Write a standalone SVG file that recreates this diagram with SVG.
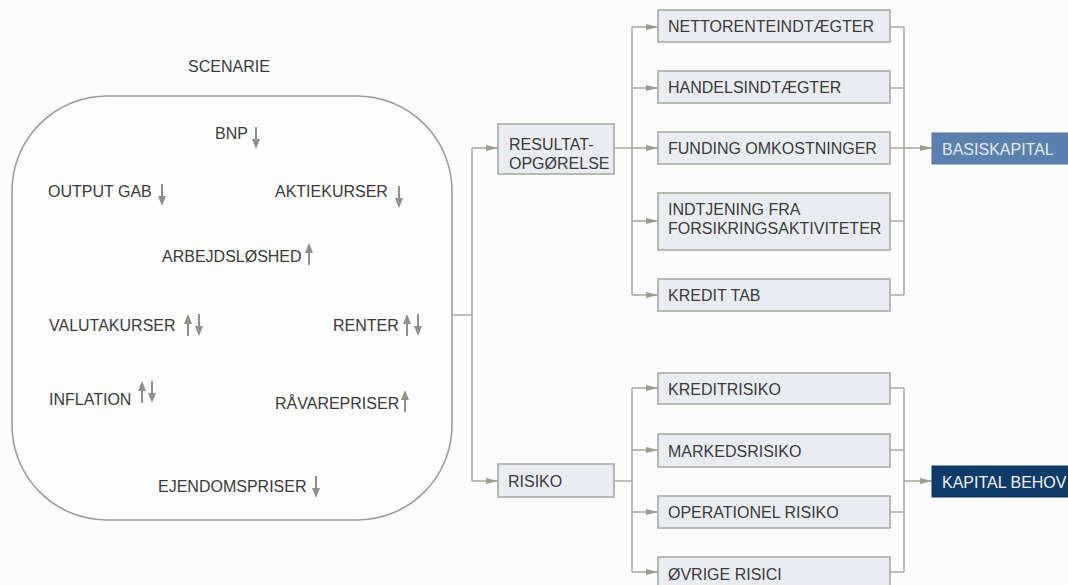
<svg xmlns="http://www.w3.org/2000/svg" width="1068" height="585" viewBox="0 0 1068 585">
<style>
.t{font-family:"Liberation Sans",Arial,sans-serif;font-size:16px;fill:#3a3a3a}
.bx{fill:#e9edf2;stroke:#a7a9a2;stroke-width:1.6}
.c{fill:none;stroke:#a9aba3;stroke-width:1.6}
.ca{fill:none;stroke:#a9aba3;stroke-width:1.6;marker-end:url(#ah)}
.ar{fill:#8e9284}
</style>
<defs>
<marker id="ah" viewBox="0 0 12 6" markerWidth="12" markerHeight="6" refX="12" refY="3" orient="auto" markerUnits="userSpaceOnUse">
<path d="M0,0 L12,3 L0,6 z" fill="#999c90"/>
</marker>
<g id="dn" class="ar"><rect x="-1" y="0" width="2" height="15"/><path d="M-4,12 L4,12 L0,22 z"/></g>
<g id="up" class="ar"><rect x="-1" y="7" width="2" height="15"/><path d="M-4,10 L4,10 L0,0 z"/></g>
</defs>
<rect width="1068" height="585" fill="#fcfcfc"/>

<g id="scenario">
<text class="t" x="229" y="72" text-anchor="middle">SCENARIE</text>
<rect x="12" y="96" width="440" height="424" rx="95" ry="95" fill="#fdfdfd" stroke="#9c9c9a" stroke-width="1.6"/>
<text class="t" x="215" y="139">BNP</text><use href="#dn" x="256" y="127"/>
<text class="t" x="48" y="197">OUTPUT GAB</text><use href="#dn" x="162" y="184"/>
<text class="t" x="275" y="197">AKTIEKURSER</text><use href="#dn" x="399" y="186"/>
<text class="t" x="162" y="262">ARBEJDSLØSHED</text><use href="#up" x="309" y="243"/>
<text class="t" x="49" y="331">VALUTAKURSER</text><use href="#up" x="188" y="314"/><use href="#dn" x="199" y="314"/>
<text class="t" x="333" y="331">RENTER</text><use href="#up" x="407" y="314"/><use href="#dn" x="418" y="314"/>
<text class="t" x="49" y="405">INFLATION</text><use href="#up" x="142" y="381"/><use href="#dn" x="152" y="381"/>
<text class="t" x="275" y="409">RÅVAREPRISER</text><use href="#up" x="405" y="390"/>
<text class="t" x="158" y="492">EJENDOMSPRISER</text><use href="#dn" x="316" y="476"/>
</g>

<g id="connectors">
<path class="c" d="M452,315 H472 M472,148 V481"/>
<path class="ca" d="M472,148 H498"/>
<path class="ca" d="M472,481 H498"/>
<path class="c" d="M614,148 H632 M632,27 V295"/>
<path class="ca" d="M632,27 H658"/>
<path class="ca" d="M632,88 H658"/>
<path class="ca" d="M632,148 H658"/>
<path class="ca" d="M632,221 H658"/>
<path class="ca" d="M632,295 H658"/>
<path class="c" d="M890,27 H904 M890,88 H904 M890,148 H904 M890,221 H904 M890,295 H904 M904,27 V295"/>
<path class="ca" d="M904,148 H932"/>
<path class="c" d="M614,481 H632 M632,388 V572"/>
<path class="ca" d="M632,388 H658"/>
<path class="ca" d="M632,450 H658"/>
<path class="ca" d="M632,512 H658"/>
<path class="ca" d="M632,572 H658"/>
<path class="c" d="M890,388 H904 M890,450 H904 M890,512 H904 M890,572 H904 M904,388 V572"/>
<path class="ca" d="M904,481 H932"/>
</g>

<g id="resultat"><rect class="bx" x="498" y="124" width="116" height="50"/><text class="t" x="509" y="150">RESULTAT-</text><text class="t" x="509" y="169">OPGØRELSE</text></g>
<g id="risiko"><rect class="bx" x="498" y="464" width="116" height="33"/><text class="t" x="508" y="487">RISIKO</text></g>

<g id="nettorente"><rect class="bx" x="658" y="10" width="232" height="32"/><text class="t" x="668" y="32">NETTORENTEINDTÆGTER</text></g>
<g id="handel"><rect class="bx" x="658" y="71" width="232" height="32"/><text class="t" x="668" y="93">HANDELSINDTÆGTER</text></g>
<g id="funding"><rect class="bx" x="658" y="132" width="232" height="32"/><text class="t" x="668" y="154">FUNDING OMKOSTNINGER</text></g>
<g id="indtjening"><rect class="bx" x="658" y="193" width="232" height="57"/><text class="t" x="668" y="215">INDTJENING FRA</text><text class="t" x="668" y="234">FORSIKRINGSAKTIVITETER</text></g>
<g id="kredittab"><rect class="bx" x="658" y="279" width="232" height="32"/><text class="t" x="668" y="301">KREDIT TAB</text></g>

<g id="kreditrisiko"><rect class="bx" x="658" y="373" width="232" height="31"/><text class="t" x="668" y="395">KREDITRISIKO</text></g>
<g id="markedsrisiko"><rect class="bx" x="658" y="434" width="232" height="33"/><text class="t" x="668" y="457">MARKEDSRISIKO</text></g>
<g id="operationel"><rect class="bx" x="658" y="496" width="232" height="32"/><text class="t" x="668" y="518">OPERATIONEL RISIKO</text></g>
<g id="ovrige"><rect class="bx" x="658" y="557" width="232" height="34"/><text class="t" x="668" y="580">ØVRIGE RISICI</text></g>

<g id="basiskapital"><rect x="932" y="133" width="140" height="31" fill="#5a80ad" stroke="#4f76a3" stroke-width="1"/><text class="t" x="942" y="155" style="fill:#e3ebf4">BASISKAPITAL</text></g>
<g id="kapitalbehov"><rect x="932" y="466" width="140" height="31" fill="#0f3b68" stroke="#0b3360" stroke-width="1"/><text class="t" x="942" y="488" style="fill:#eef3f8">KAPITAL BEHOV</text></g>
</svg>
